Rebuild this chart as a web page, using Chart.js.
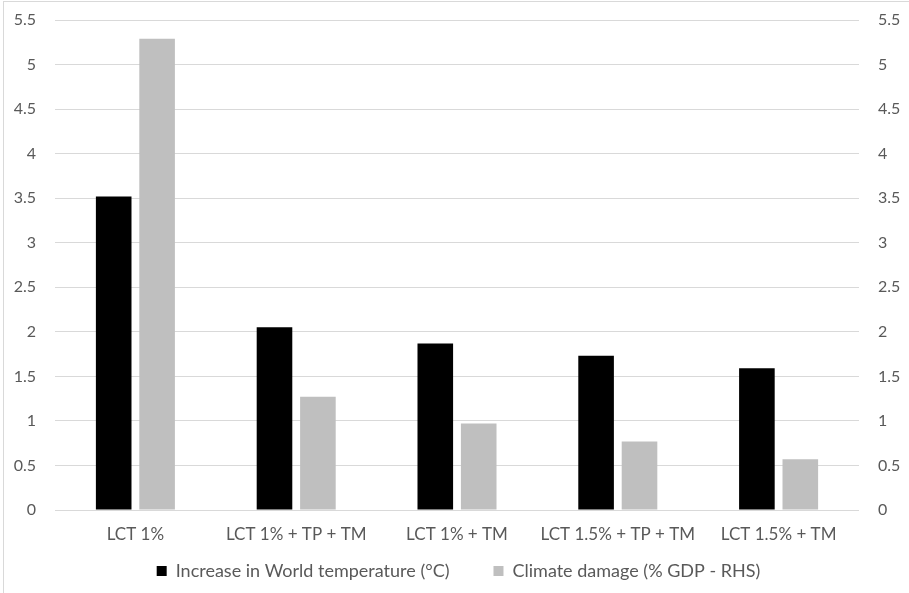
<!DOCTYPE html>
<html lang="en">
<head>
  <meta charset="UTF-8" />
  <title>World temperature and climate damage</title>
  <style>
    html, body {
      margin: 0;
      padding: 0;
      background: #fff;
    }
    #wrap {
      position: relative;
      width: 909px;
      height: 593px;
    }
    #frame {
      position: absolute;
      left: 3px;
      top: 1px;
      right: 0;
      bottom: 0;
      border-left: 1px solid #d9d9d9;
      border-top: 1px solid #d9d9d9;
      pointer-events: none;
    }
  </style>
</head>
<body>
  <div id="wrap">
    <canvas id="chart" width="909" height="593"></canvas>
    <div id="frame"></div>
  </div>

  <script src="https://cdn.jsdelivr.net/npm/chart.js"></script>
  <script>
    // Data
    const scenarios = ['LCT 1%', 'LCT 1% + TP + TM', 'LCT 1% + TM', 'LCT 1.5% + TP + TM', 'LCT 1.5% + TM'];
    const temperature = [3.52, 2.05, 1.87, 1.73, 1.59];
    const damage = [5.29, 1.27, 0.97, 0.77, 0.57];
    const seriesNames = ['Increase in World temperature (°C)', 'Climate damage (% GDP - RHS)'];
    const axisMin = 0;
    const axisMax = 5.5;
    const axisStep = 0.5;

    const textColor = '#595959';
    const gridColor = '#d9d9d9';
    const tickFont = { family: 'Lato', size: 16 };
    const catFont = { family: 'Lato', size: 17 };
    const legendFont = { family: 'Lato', size: 18 };

    // both value axes: same range, only the left one draws the grid
    const yAxis = (position, width) => ({
      type: 'linear',
      position: position,
      min: axisMin,
      max: axisMax,
      ticks: {
        stepSize: axisStep,
        color: textColor,
        font: tickFont,
        padding: 0,
        callback: (v) => String(v)
      },
      grid: {
        color: gridColor,
        drawOnChartArea: position === 'left',
        drawTicks: true,
        tickLength: 19,
        tickColor: 'rgba(0,0,0,0)'
      },
      border: { display: false },
      afterFit: (scale) => { scale.width = width; }
    });

    new Chart(document.getElementById('chart').getContext('2d'), {
      type: 'bar',
      data: {
        labels: scenarios,
        datasets: [
          {
            label: seriesNames[0],
            data: temperature,
            backgroundColor: '#000000',
            yAxisID: 'y'
          },
          {
            label: seriesNames[1],
            data: damage,
            backgroundColor: '#bfbfbf',
            yAxisID: 'y2'
          }
        ]
      },
      options: {
        responsive: false,
        animation: false,
        categoryPercentage: 0.54,
        barPercentage: 0.82,
        layout: { padding: { top: 20, bottom: 3, left: 8, right: 0 } },
        scales: {
          x: {
            grid: { display: false },
            border: { display: false },
            ticks: {
              color: textColor,
              font: catFont,
              // mirrored so the labels are not clipped to the thin axis box
              mirror: true,
              padding: -35,
              autoSkip: false,
              maxRotation: 0,
              minRotation: 0
            },
            afterFit: (scale) => { scale.height = 8; }
          },
          y: yAxis('left', 47),
          y2: yAxis('right', 50)
        },
        plugins: {
          legend: {
            position: 'bottom',
            labels: {
              color: textColor,
              font: legendFont,
              boxWidth: 10,
              boxHeight: 10,
              padding: 44
            }
          },
          tooltip: { enabled: false }
        }
      }
    });
  </script>
</body>
</html>
